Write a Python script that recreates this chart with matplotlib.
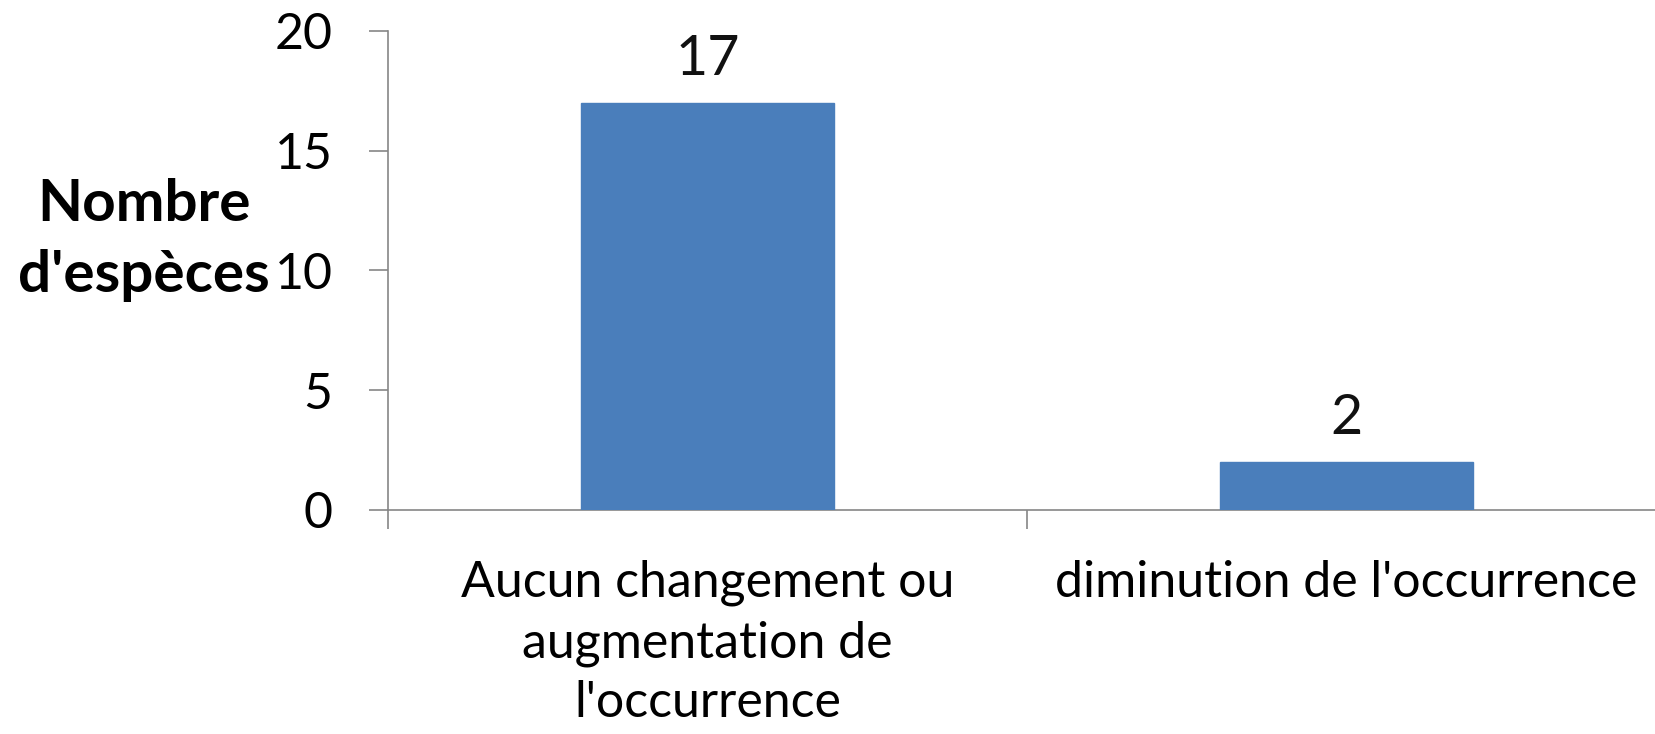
import matplotlib
matplotlib.use("Agg")
import matplotlib.pyplot as plt
from matplotlib.ticker import FixedLocator

categories = ["Aucun changement ou\naugmentation de\nl'occurrence", "diminution de l'occurrence"]
values = [17, 2]
yticks = [0, 5, 10, 15, 20]
ylabel = "Nombre\nd'espèces"

plt.rcParams['font.family'] = ['Lato', 'DejaVu Sans']

fig = plt.figure(figsize=(16.56, 7.34), dpi=100)
ax = fig.add_axes([0.2343, 0.3052, 0.7717, 0.6526])

x = list(range(len(categories)))
ax.bar(x, values, width=0.395, color="#4a7ebb", edgecolor="#4a7ebb", zorder=3)
for xi, v in zip(x, values):
    ax.annotate(str(v), (xi, v), xytext=(0, 20), textcoords="offset points",
                ha="center", va="baseline", fontsize=40, color="#111111")

ax.set_xlim(-0.5, len(categories) - 0.5)
ax.set_ylim(0, 20)
ax.set_yticks(yticks)
ax.set_yticklabels([str(t) for t in yticks], fontsize=36)
ax.set_xticks(x)
ax.set_xticklabels(categories, fontsize=36, linespacing=1.37)
ax.xaxis.set_minor_locator(FixedLocator([i - 0.5 for i in range(len(categories) + 1)]))
ax.tick_params(axis="x", which="major", length=0, pad=36)
ax.tick_params(axis="x", which="minor", length=14, width=1.2, color="#868686", direction="out")
ax.tick_params(axis="y", length=14, width=1.2, color="#868686", direction="out", pad=26)

for s in ["top", "right"]:
    ax.spines[s].set_visible(False)
for s in ["left", "bottom"]:
    ax.spines[s].set_color("#868686")
    ax.spines[s].set_linewidth(1.2)

fig.text(0.0867, 0.673, ylabel, ha="center", va="center", fontsize=42, fontweight="bold",
         linespacing=1.41)

fig.savefig("out.png", dpi=100, facecolor="white")
